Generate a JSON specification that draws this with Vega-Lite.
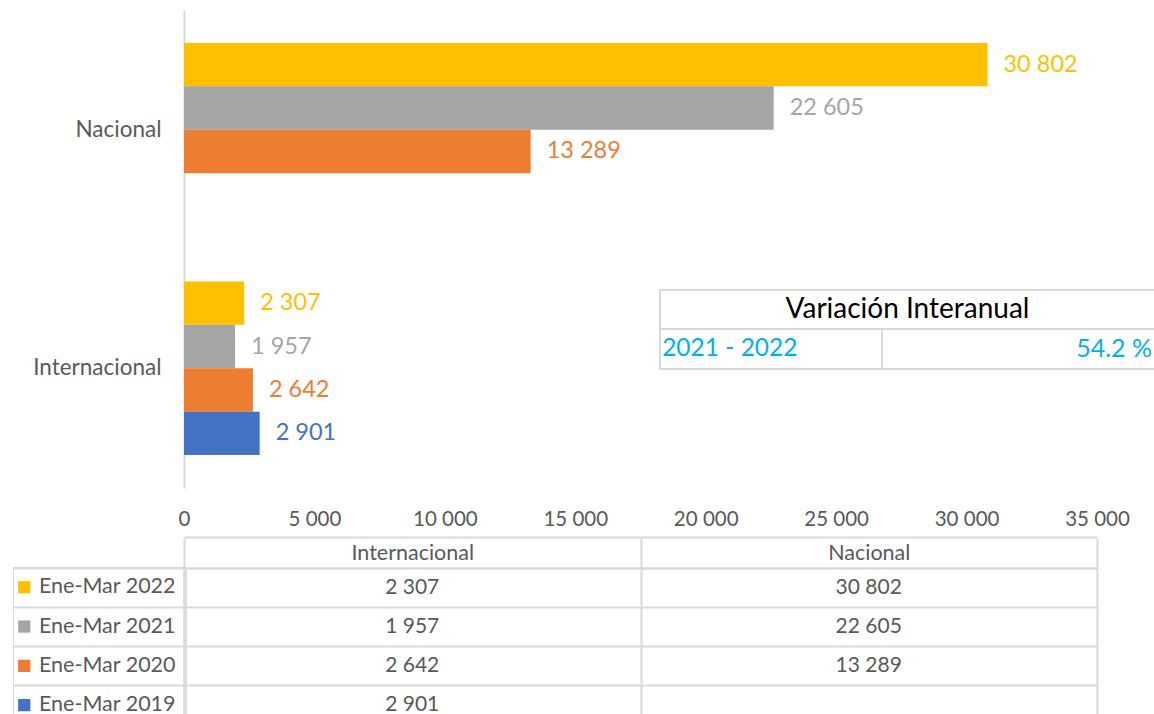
{
  "$schema": "https://vega.github.io/schema/vega-lite/v6.json",
  "padding": {"left": 12, "top": 10, "right": 0, "bottom": 0},
  "spacing": 0,
  "config": {
    "font": "Lato",
    "locale": {"number": {"decimal": ".", "thousands": " ", "grouping": [3], "currency": ["", ""]}},
    "view": {"stroke": null},
    "axis": {"labelFont": "Lato", "labelColor": "#595959", "domainColor": "#D9D9D9", "tickColor": "#D9D9D9", "gridColor": "#D9D9D9", "domainWidth": 2, "tickWidth": 2, "gridWidth": 2}
  },
  "datasets": {
    "viajes": [
      {"tipo": "Nacional", "periodo": "Ene-Mar 2022", "valor": 30802},
      {"tipo": "Nacional", "periodo": "Ene-Mar 2021", "valor": 22605},
      {"tipo": "Nacional", "periodo": "Ene-Mar 2020", "valor": 13289},
      {"tipo": "Internacional", "periodo": "Ene-Mar 2022", "valor": 2307},
      {"tipo": "Internacional", "periodo": "Ene-Mar 2021", "valor": 1957},
      {"tipo": "Internacional", "periodo": "Ene-Mar 2020", "valor": 2642},
      {"tipo": "Internacional", "periodo": "Ene-Mar 2019", "valor": 2901}
    ],
    "variacion": [
      {"titulo": "Variación Interanual", "rango": "2021 - 2022", "pct": "54.2 %"}
    ]
  },
  "vconcat": [
    {
      "width": 913,
      "height": 478,
      "layer": [
        {
          "data": {"name": "viajes"},
          "encoding": {
            "y": {
              "field": "tipo", "type": "nominal", "sort": ["Nacional", "Internacional"],
              "scale": {"paddingInner": 0.272, "paddingOuter": 0.138},
              "axis": {"title": null, "ticks": false, "labelPadding": 23, "labelFontSize": 22.5, "minExtent": 171, "maxExtent": 171}
            },
            "yOffset": {
              "field": "periodo", "type": "nominal",
              "sort": ["Ene-Mar 2022", "Ene-Mar 2021", "Ene-Mar 2020", "Ene-Mar 2019"],
              "scale": {"domain": ["Ene-Mar 2022", "Ene-Mar 2021", "Ene-Mar 2020", "Ene-Mar 2019"]}
            },
            "x": {
              "field": "valor", "type": "quantitative",
              "scale": {"domain": [0, 35000], "nice": false},
              "axis": {"title": null, "values": [0, 5000, 10000, 15000, 20000, 25000, 30000, 35000], "labelExpr": "format(datum.value, ',')", "grid": false, "offset": 49, "ticks": false, "tickSize": 0, "labelPadding": -28, "labelBaseline": "top", "labelFontSize": 20.5, "labelFlush": false, "labelOverlap": false}
            },
            "color": {
              "field": "periodo", "type": "nominal",
              "scale": {"domain": ["Ene-Mar 2022", "Ene-Mar 2021", "Ene-Mar 2020", "Ene-Mar 2019"], "range": ["#FFC000", "#A5A5A5", "#ED7D31", "#4472C4"]},
              "legend": {"orient": "none", "legendX": -171, "legendY": 557, "title": null, "symbolType": "square", "symbolSize": 150, "symbolStrokeWidth": 0, "symbolOffset": -9, "labelFontSize": 21.5, "labelColor": "#595959", "labelFont": "Lato", "rowPadding": 16.3, "padding": 9.5, "labelOffset": 4, "strokeColor": "#D9D9D9"}
            }
          },
          "layer": [
            {"mark": {"type": "bar"}},
            {"mark": {"type": "text", "align": "left", "dx": 16, "fontSize": 23.5}, "encoding": {"text": {"field": "valor", "type": "quantitative", "format": ","}}}
          ]
        },
        {
          "data": {"name": "variacion"},
          "layer": [
            {
              "mark": {"type": "rect", "fill": "white", "stroke": "#D9D9D9", "strokeWidth": 2},
              "encoding": {
                "x": {"datum": 18248, "type": "quantitative"},
                "x2": {"datum": 37500},
                "y": {"datum": 58.58, "type": "quantitative", "scale": {"domain": [0, 100], "reverse": true}, "axis": null},
                "y2": {"datum": 75.1}
              }
            },
            {
              "mark": {"type": "rule", "color": "#D9D9D9", "strokeWidth": 2},
              "encoding": {
                "x": {"datum": 18248, "type": "quantitative"},
                "x2": {"datum": 37500},
                "y": {"datum": 66.74, "type": "quantitative", "axis": null}
              }
            },
            {
              "mark": {"type": "rule", "color": "#D9D9D9", "strokeWidth": 2},
              "encoding": {
                "x": {"datum": 26758, "type": "quantitative"},
                "y": {"datum": 66.74, "type": "quantitative", "axis": null},
                "y2": {"datum": 75.1}
              }
            },
            {
              "mark": {"type": "text", "fontSize": 28, "color": "#000000", "align": "center", "baseline": "middle"},
              "encoding": {
                "x": {"datum": 27736, "type": "quantitative"},
                "y": {"datum": 62.76, "type": "quantitative", "axis": null},
                "text": {"field": "titulo"}
              }
            },
            {
              "mark": {"type": "text", "fontSize": 24.5, "color": "#00B0F0", "align": "left", "baseline": "middle"},
              "encoding": {
                "x": {"datum": 18330, "type": "quantitative"},
                "y": {"datum": 70.92, "type": "quantitative", "axis": null},
                "text": {"field": "rango"}
              }
            },
            {
              "mark": {"type": "text", "fontSize": 25, "color": "#00B0F0", "align": "right", "baseline": "middle"},
              "encoding": {
                "x": {"datum": 37108, "type": "quantitative"},
                "y": {"datum": 70.92, "type": "quantitative", "axis": null},
                "text": {"field": "pct"}
              }
            }
          ]
        }
      ],
      "resolve": {"scale": {"y": "independent"}, "axis": {"y": "independent"}}
    },
    {
      "width": 913,
      "height": 156,
      "data": {"name": "viajes"},
      "mark": {"type": "text", "fontSize": 21, "color": "#595959"},
      "encoding": {
        "x": {
          "field": "tipo", "type": "nominal", "sort": ["Internacional", "Nacional"],
          "scale": {"paddingInner": 0, "paddingOuter": 0},
          "axis": {"orient": "top", "title": null, "tickBand": "extent", "tickSize": 30, "labelPadding": -26, "labelFontSize": 21.5, "labelAngle": 0, "grid": true, "domain": true}
        },
        "y": {
          "field": "periodo", "type": "nominal",
          "sort": ["Ene-Mar 2022", "Ene-Mar 2021", "Ene-Mar 2020", "Ene-Mar 2019"],
          "scale": {"paddingInner": 0, "paddingOuter": 0},
          "axis": {"title": null, "labels": false, "tickBand": "extent", "tickSize": 171, "grid": true, "domain": true, "minExtent": 171, "maxExtent": 171}
        },
        "text": {"field": "valor", "type": "quantitative", "format": ","}
      }
    }
  ]
}
